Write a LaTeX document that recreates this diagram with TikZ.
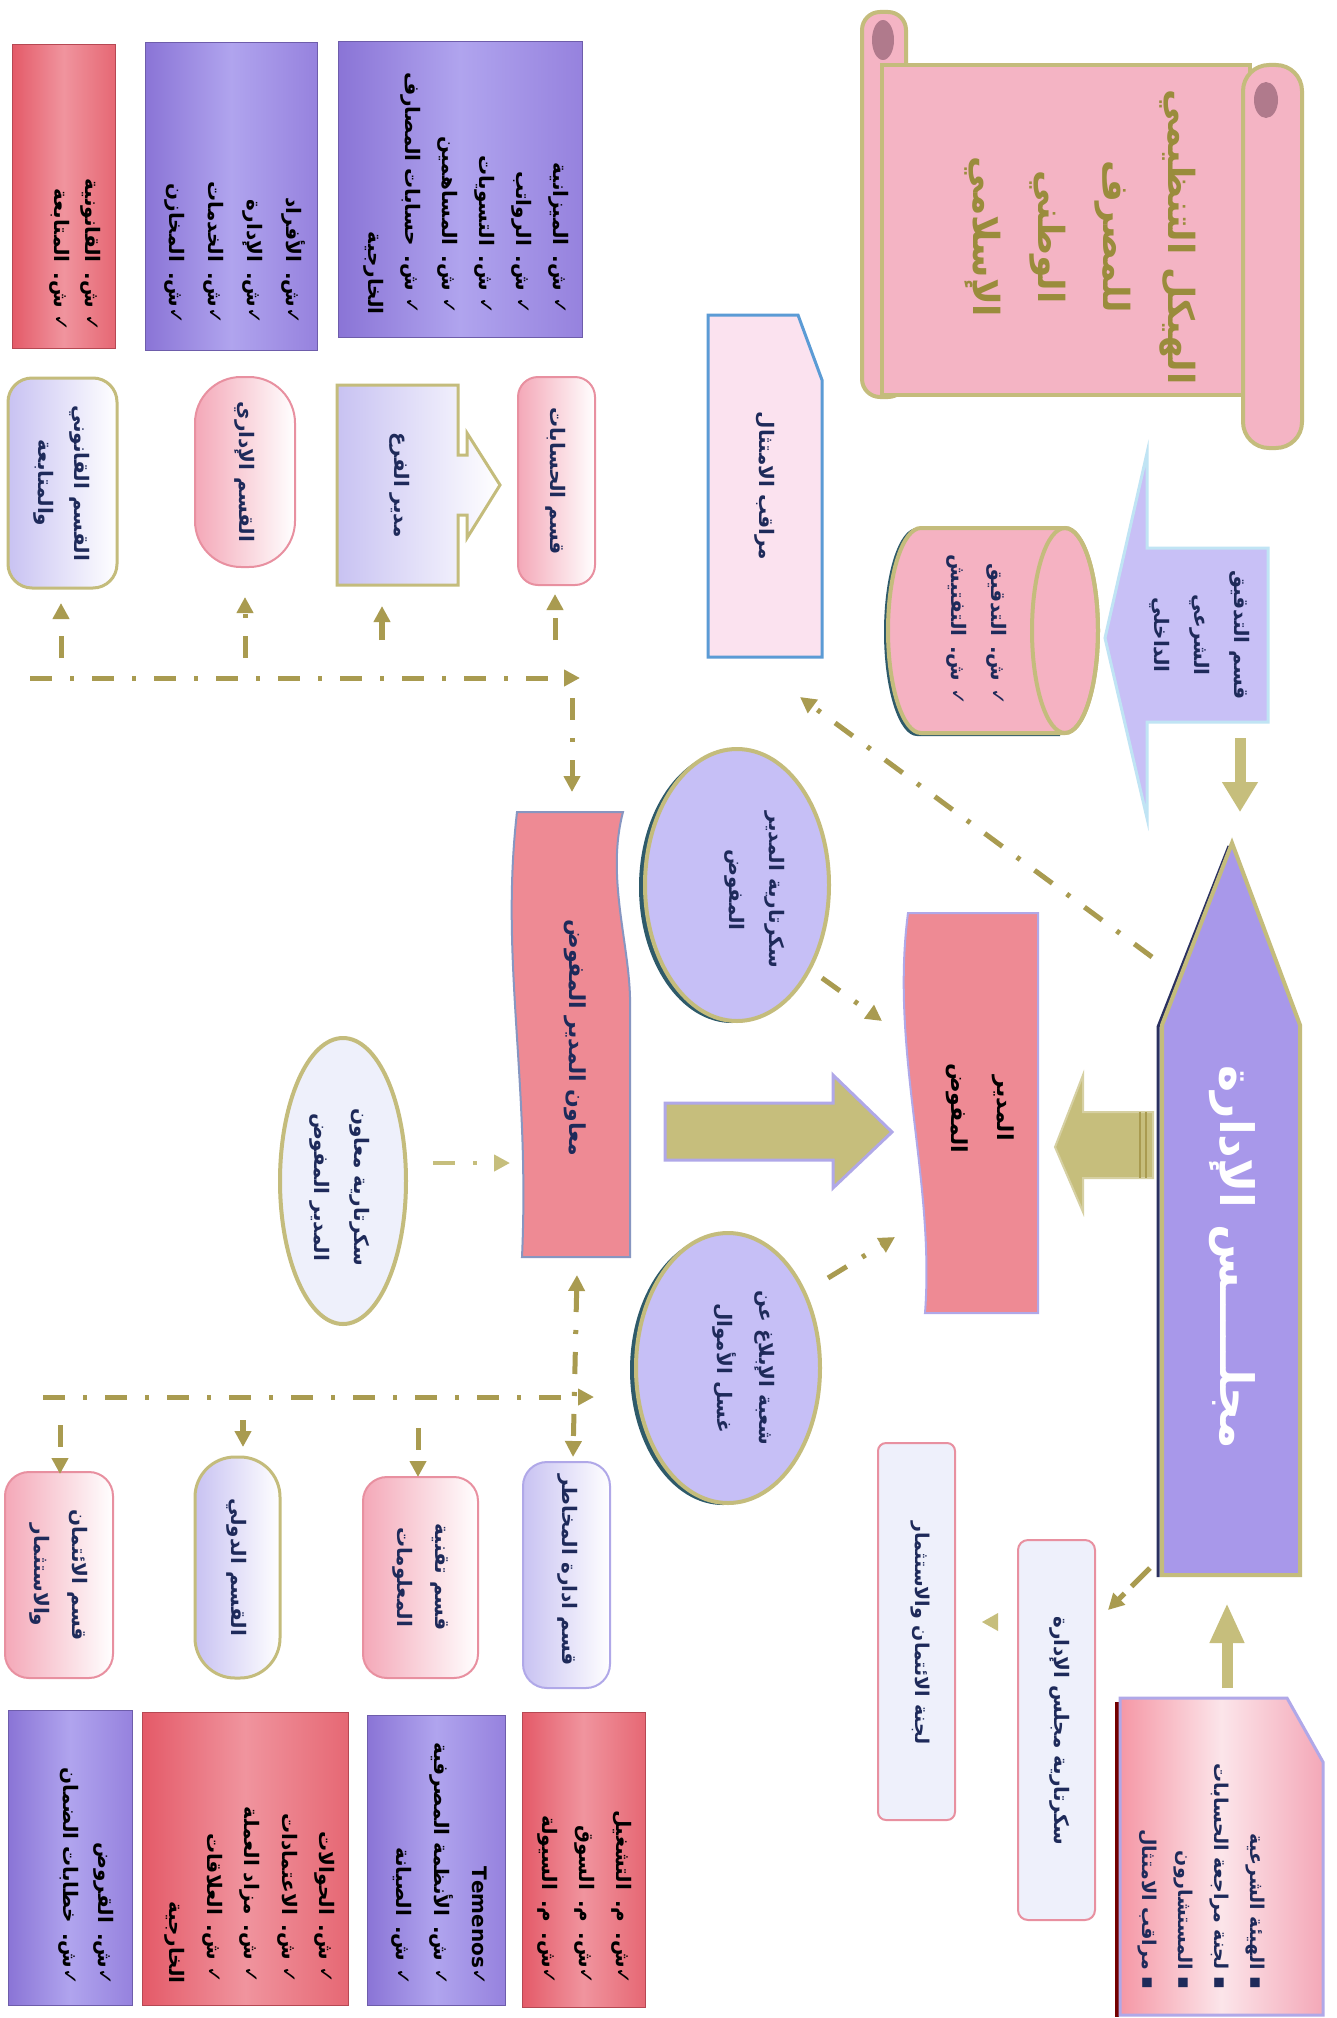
\documentclass[tikz,border=0pt]{standalone}
\usepackage{fontspec}
\setmainfont{DejaVu Sans}
\newfontfamily\ar[Script=Arabic]{DejaVu Sans}
\TeXXeTstate=1
\usetikzlibrary{shapes.geometric,arrows.meta}
\newcommand{\arl}[1]{\beginR #1\endR}
\newcommand{\setfs}[2]{\fontsize{#1}{#2}\selectfont}
\definecolor{navyT}{HTML}{1E2A5A}
\definecolor{oliveL}{HTML}{A99B50}
\definecolor{oliveF}{HTML}{C6BE7C}
\definecolor{oliveB}{HTML}{C4BC7C}
\definecolor{titleC}{HTML}{9A8C3C}
\definecolor{scrollF}{HTML}{F4B4C4}
\definecolor{curlC}{HTML}{B07A8C}
\definecolor{boardC}{HTML}{A898EA}
\definecolor{shadowN}{HTML}{2A3060}
\definecolor{shadowT}{HTML}{2E5A6A}
\definecolor{auditF}{HTML}{C8C0F6}
\definecolor{calloutB}{HTML}{C0E4F4}
\definecolor{cylF}{HTML}{F5B2C2}
\definecolor{mdC}{HTML}{EE8A94}
\definecolor{lavE}{HTML}{C6BFF6}
\definecolor{paleE}{HTML}{EEF0FB}
\definecolor{compF}{HTML}{FBE2EF}
\definecolor{compB}{HTML}{5B9BD5}
\definecolor{pinkD}{HTML}{F4A8B8}
\definecolor{pinkB}{HTML}{E890A0}
\definecolor{lavD}{HTML}{C8C2F2}
\definecolor{lavB}{HTML}{B0A8E8}
\definecolor{purA}{HTML}{8A74D6}
\definecolor{purM}{HTML}{B0A4EE}
\definecolor{purC}{HTML}{9682DE}
\definecolor{redA}{HTML}{E45A68}
\definecolor{redM}{HTML}{F0949E}
\definecolor{redC}{HTML}{E66874}
\tikzset{
  txt/.style={rotate=-90, inner sep=0pt, align=center, text=navyT, font=\ar\bfseries\setfs{20}{40}},
  lst/.style={txt, align=right, text=black},
  purbox/.style={rectangle, draw=purA!80!black, line width=1pt, left color=purA, right color=purC, middle color=purM},
  redbox/.style={rectangle, draw=redA!80!black, line width=1pt, left color=redA, right color=redC, middle color=redM},
  pinkdept/.style={rectangle, draw=pinkB, line width=2pt, left color=pinkD, right color=white},
  lavdept/.style={rectangle, draw=lavB, line width=2pt, left color=lavD, right color=white},
  dd/.style={draw=oliveL, line width=5pt, dash pattern=on 22pt off 18pt on 4pt off 18pt, -{Triangle[length=16pt,width=16pt]}},
  sol/.style={draw=oliveL, line width=6pt, -{Triangle[length=16pt,width=16pt]}},
}
\begin{document}
\begin{tikzpicture}[x=1pt,y=1pt]
\useasboundingbox (0,0) rectangle (1337,-2018);
\fill[white] (0,0) rectangle (1337,-2018);

% ---------- title scroll
\draw[line width=4pt, draw=oliveB, fill=scrollF, rounded corners=18pt] (862,-12) rectangle (906,-397);
\fill[curlC] (883,-40) ellipse [x radius=11, y radius=20];
\draw[line width=4pt, draw=oliveB, fill=scrollF] (882,-65) rectangle (1250,-395);
\draw[line width=4pt, draw=oliveB, fill=scrollF, rounded corners=26pt] (1243,-65) rectangle (1302,-448);
\fill[curlC] (1266,-100) ellipse [x radius=12, y radius=18];
\node[txt, text=titleC, font=\ar\bfseries\setfs{36}{65}] (title) at (1080,-237)
  {\arl{الهيكل التنظيمي}\\\arl{للمصرف}\\\arl{الوطني}\\\arl{الإسلامي}};

% ---------- internal sharia audit (callout)
\draw[line width=3pt, draw=calloutB, fill=auditF] (1268,-548) -- (1147,-548) -- (1147,-453) -- (1105,-638) -- (1147,-818) -- (1147,-722) -- (1268,-722) -- cycle;
\node[txt] (auditT) at (1200,-635) {\arl{قسم التدقيق}\\\arl{الشرعي}\\\arl{الداخلي}};

% ---------- cylinder
\fill[shadowT] (917,-528) -- (1060,-528) -- (1060,-736) -- (917,-736) arc[start angle=270, end angle=90, x radius=33, y radius=104] -- cycle;
\draw[line width=4pt, draw=oliveB, fill=cylF] (1065,-528) -- (921,-528) arc[start angle=90, end angle=270, x radius=33, y radius=102.5] -- (1065,-733) arc[start angle=-90, end angle=90, x radius=33, y radius=102.5] -- cycle;
\draw[line width=4pt, draw=oliveB] (1065,-630.5) ellipse [x radius=33, y radius=102.5];
\node[lst, text=navyT, text width=160pt, font=\ar\bfseries\setfs{20}{40}] (cylT) at (977,-625) {\arl{✓ ش. التدقيق}\\\arl{✓ ش. التفتيش}};

% ---------- compliance monitor
\draw[line width=3pt, draw=compB, fill=compF] (708,-315) -- (798,-315) -- (822,-380) -- (822,-657) -- (708,-657) -- cycle;
\node[txt] (compT) at (765,-486) {\arl{مراقب الامتثال}};

% ---------- board
\draw[line width=3pt, draw=shadowN] (1229,-846) -- (1158,-1027) -- (1158,-1577);
\draw[line width=4pt, draw=oliveB, fill=boardC] (1232,-843) -- (1300,-1025) -- (1300,-1575) -- (1162,-1575) -- (1162,-1025) -- cycle;
\node[txt, text=white, font=\ar\bfseries\setfs{46}{50}] (boardT) at (1232,-1257) {\arl{مجلـــــس الإدارة}};

% arrow audit -> board
\draw[draw=oliveF, line width=11pt, -{Triangle[length=30pt,width=34pt]}] (1240,-738) -- (1240,-812);

% ---------- managing director
\draw[line width=2pt, draw=lavB, fill=mdC] (908,-913) -- (1038,-913) -- (1038,-1313) -- (925,-1313) .. controls (935,-1180) and (890,-1050) .. (908,-913) -- cycle;
\node[txt, text=black, font=\ar\bfseries\setfs{22}{46}] (mdT) at (980,-1108) {\arl{المدير}\\\arl{المفوض}};

% big arrow board -> MD
\draw[line width=2pt, draw=oliveB!70!white, fill=oliveF] (1153,-1112) -- (1083,-1112) -- (1083,-1075) -- (1055,-1147) -- (1083,-1212) -- (1083,-1178) -- (1153,-1178) -- cycle;
\draw[line width=1.5pt, draw=oliveL] (1140,-1112) -- (1140,-1178) (1146,-1112) -- (1146,-1178);

% ---------- secretary of MD
\fill[shadowT] (732,-887) ellipse [x radius=93, y radius=136];
\node[ellipse, draw=oliveB, line width=4pt, fill=lavE, minimum width=184pt, minimum height=272pt, inner sep=0pt] (secMD) at (737,-885) {};
\node[txt] (secMDT) at (755,-890) {\arl{سكرتارية المدير}\\\arl{المفوض}};

% ---------- money laundering unit
\fill[shadowT] (723,-1370) ellipse [x radius=93, y radius=135];
\node[ellipse, draw=oliveB, line width=4pt, fill=lavE, minimum width=184pt, minimum height=270pt, inner sep=0pt] (aml) at (728,-1368) {};
\node[txt, font=\ar\bfseries\setfs{20}{42}] (amlT) at (744,-1368) {\arl{شعبة الإبلاغ عن}\\\arl{غسل الأموال}};

% ---------- deputy MD (wave)
\draw[line width=2pt, draw=compB!70!mdC, fill=mdC] (517,-812) -- (623,-812) .. controls (605,-880) and (632,-950) .. (630,-1010) -- (630,-1257) -- (522,-1257) .. controls (530,-1080) and (500,-960) .. (517,-812) -- cycle;
\node[txt, font=\ar\bfseries\setfs{22}{40}] (depT) at (575,-1038) {\arl{معاون المدير المفوض}};

% big arrow deputy -> MD
\draw[line width=3pt, draw=lavB, fill=oliveF] (665,-1103) -- (833,-1103) -- (833,-1075) -- (892,-1132) -- (833,-1188) -- (833,-1160) -- (665,-1160) -- cycle;

% ---------- secretary of deputy
\node[ellipse, draw=oliveB, line width=4pt, fill=paleE, minimum width=126pt, minimum height=286pt, inner sep=0pt] (secDep) at (343,-1181) {};
\node[txt, font=\ar\bfseries\setfs{20}{40}] (secDepT) at (340,-1187) {\arl{سكرتارية معاون}\\\arl{المدير المفوض}};

% ---------- upper lists
\node[purbox, minimum width=244pt, minimum height=295pt] (accL) at (460,-189.5) {};
\node[lst, text width=250pt, font=\ar\bfseries\setfs{20}{37}] (accLT) at (466,-189.5)
 {\arl{✓ ش. الميزانية}\\\arl{✓ ش. الرواتب}\\\arl{✓ ش. التسويات}\\\arl{✓ ش. المساهمين}\\\arl{✓ ش. حسابات المصارف}\\\arl{الخارجية}};
\node[purbox, minimum width=172pt, minimum height=307pt] (admL) at (231,-196.5) {};
\node[lst, text width=255pt, font=\ar\bfseries\setfs{20}{39}] (admLT) at (235,-196.5)
 {\arl{✓ش. الأفراد}\\\arl{✓ش. الإدارة}\\\arl{✓ش. الخدمات}\\\arl{✓ش. المخازن}};
\node[redbox, minimum width=103pt, minimum height=303pt] (legL) at (63.5,-196.5) {};
\node[lst, text width=270pt, font=\ar\bfseries\setfs{20}{31}] (legLT) at (75,-196.5)
 {\arl{✓ ش. القانونية}\\\arl{✓ ش. المتابعة}};

% ---------- upper departments
\node[pinkdept, rounded corners=20pt, minimum width=77pt, minimum height=208pt] (accD) at (556.5,-481) {};
\node[txt] (accDT) at (556,-481) {\arl{قسم الحسابات}};
\shade[left color=lavD, right color=white] (337,-385) -- (458,-385) -- (458,-455) -- (467,-455) -- (467,-433) -- (500,-485) -- (467,-538) -- (467,-515) -- (458,-515) -- (458,-585) -- (337,-585) -- cycle;
\draw[line width=3pt, draw=oliveB] (337,-385) -- (458,-385) -- (458,-455) -- (467,-455) -- (467,-433) -- (500,-485) -- (467,-538) -- (467,-515) -- (458,-515) -- (458,-585) -- (337,-585) -- cycle;
\node[txt] (brT) at (400,-485) {\arl{مدير الفرع}};
\node[pinkdept, rounded corners=46pt, minimum width=100pt, minimum height=190pt] (admD) at (245,-472) {};
\node[txt] (admDT) at (245,-472) {\arl{القسم الإداري}};
\node[lavdept, draw=oliveB, line width=3pt, rounded corners=24pt, minimum width=109pt, minimum height=210pt] (legD) at (62.5,-483) {};
\node[txt, font=\ar\bfseries\setfs{20}{36}] (legDT) at (62,-483) {\arl{القسم القانوني}\\\arl{والمتابعة}};

% upper bus
\coordinate (ubA) at (30,-678);
\coordinate (ubB) at (580,-678);
\draw[dd] (ubA) -- (ubB);
\draw[dd] (572,-698) -- (572,-792);
\draw[dd] (61,-658) -- (61,-603);
\draw[dd] (245,-658) -- (245,-597);
\draw[sol] (382,-640) -- (382,-606);
\draw[dd] (555,-640) -- (555,-594);

% ---------- lower departments
\node[lavdept, rounded corners=24pt, minimum width=87pt, minimum height=226pt] (riskD) at (566.5,-1575) {};
\node[txt] (riskDT) at (568,-1570) {\arl{قسم ادارة المخاطر}};
\node[pinkdept, rounded corners=24pt, minimum width=115pt, minimum height=201pt] (itD) at (420.5,-1577.5) {};
\node[txt, font=\ar\bfseries\setfs{20}{38}] (itDT) at (420,-1577) {\arl{قسم تقنية}\\\arl{المعلومات}};
\node[lavdept, draw=oliveB, line width=3pt, rounded corners=40pt, minimum width=85pt, minimum height=221pt] (intD) at (237.5,-1567.5) {};
\node[txt] (intDT) at (237,-1567) {\arl{القسم الدولي}};
\node[pinkdept, rounded corners=24pt, minimum width=108pt, minimum height=206pt] (crdD) at (59,-1575) {};
\node[txt, font=\ar\bfseries\setfs{20}{38}] (crdDT) at (59,-1575) {\arl{قسم الائتمان}\\\arl{والاستثمار}};

% lower bus
\coordinate (lbA) at (43,-1397);
\coordinate (lbB) at (594,-1397);
\draw[dd] (lbA) -- (lbB);
\draw[dd, {Triangle[length=16pt,width=16pt]}-{Triangle[length=16pt,width=16pt]}] (577,-1275) -- (573,-1457);
\draw[dd] (60,-1425) -- (60,-1474);
\draw[sol] (243,-1420) -- (243,-1447);
\draw[dd] (418,-1428) -- (418,-1477);

% ---------- lower lists
\node[redbox, minimum width=123pt, minimum height=295pt] (riskL) at (583.5,-1859.5) {};
\node[lst, text width=250pt, font=\ar\bfseries\setfs{20}{37}] (riskLT) at (585,-1859.5)
 {\arl{✓ش. م. التشغيل}\\\arl{✓ش. م. السوق}\\\arl{✓ش. م. السيولة}};
\node[purbox, minimum width=138pt, minimum height=290pt] (itL) at (436,-1860) {};
\node[lst, text width=250pt, font=\ar\bfseries\setfs{20}{38}] (itLT) at (439,-1860)
 {\arl{✓\beginL Temenos\endL}\\\arl{✓ ش. الأنظمة المصرفية}\\\arl{✓ ش. الصيانة}};
\node[redbox, minimum width=206pt, minimum height=293pt] (intL) at (245,-1858.5) {};
\node[lst, text width=250pt, font=\ar\bfseries\setfs{20}{37.5}] (intLT) at (250,-1858.5)
 {\arl{✓ ش. الحوالات}\\\arl{✓ ش. الاعتمادات}\\\arl{✓ ش. مزاد العملة}\\\arl{✓ ش. العلاقات}\\\arl{الخارجية}};
\node[purbox, minimum width=124pt, minimum height=295pt] (crdL) at (70,-1857.5) {};
\node[lst, text width=255pt, font=\ar\bfseries\setfs{20}{35}] (crdLT) at (86,-1857.5)
 {\arl{✓ش. القروض}\\\arl{✓ش. خطابات الضمان}};

% ---------- sharia board box
\draw[line width=4pt, draw=red!45!black] (1117,-1702) -- (1117,-2017);
\shade[left color=pinkD!90!red, right color=pinkD, middle color=white!70!pinkD] (1120,-1698) -- (1287,-1698) -- (1323,-1762) -- (1323,-2015) -- (1120,-2015) -- cycle;
\draw[line width=3pt, draw=lavB] (1120,-1698) -- (1287,-1698) -- (1323,-1762) -- (1323,-2015) -- (1120,-2015) -- cycle;
\node[lst, text=navyT, text width=270pt, font=\ar\bfseries\setfs{19}{36}] (shT) at (1201,-1854)
 {\arl{▪ الهيئة الشرعية}\\\arl{▪ لجنة مراجعة الحسابات}\\\arl{▪ المستشارون}\\\arl{▪ مراقب الامتثال}};
\draw[draw=oliveF, line width=11pt, -{Triangle[length=40pt,width=32pt]}] (1227,-1688) -- (1227,-1603);

% ---------- board secretary & committee
\node[rectangle, rounded corners=10pt, draw=pinkB, line width=2pt, fill=paleE, minimum width=77pt, minimum height=380pt] (secB) at (1056.5,-1730) {};
\node[txt] (secBT) at (1060,-1731) {\arl{سكرتارية مجلس الإدارة}};
\node[rectangle, rounded corners=8pt, draw=pinkB, line width=2pt, fill=paleE, minimum width=77pt, minimum height=377pt] (comm) at (916.5,-1631.5) {};
\node[txt, font=\ar\bfseries\setfs{19}{40}] (commT) at (920,-1633) {\arl{لجنة الائتمان والاستثمار}};
\draw[draw=oliveL, line width=5pt, dash pattern=on 26pt off 10pt, -{Triangle[length=16pt,width=16pt]}] (1150,-1568) -- (1108,-1610);
\fill[oliveF] (982,-1622) -- (998,-1613) -- (998,-1631) -- cycle;

% ---------- other dash-dot connectors
\draw[dd] (1152,-957) -- (800,-697);
\draw[dd] (822,-978) -- (882,-1021);
\draw[dd] (828,-1278) -- (895,-1237);
\draw[dd, line width=4pt, draw=oliveF] (433,-1163) -- (510,-1163);

\end{tikzpicture}
\end{document}
